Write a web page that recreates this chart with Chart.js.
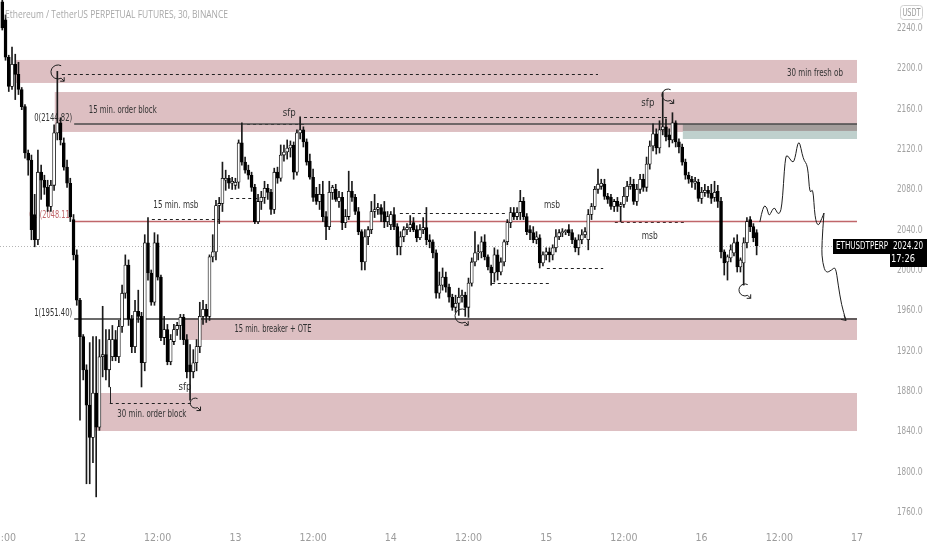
<!DOCTYPE html>
<html>
<head>
<meta charset="utf-8">
<script src="https://cdn.jsdelivr.net/npm/chart.js@4.4.1/dist/chart.umd.min.js"></script>
<style>
  html, body { margin: 0; padding: 0; background: #fff; }
  #wrap { width: 932px; height: 550px; }
</style>
</head>
<body>
<div id="wrap"><canvas id="chart"></canvas></div>
<script>
// ETHUSDT perp, 30 min candles, first one at 11th 12:00 (hours counted from the 12th 00:00)
const firstCandleHour = -12;
const candleHours = 0.5;

const opens = [
  2266,2248,2211,2182,2204,2194,2179,2162,2116,2109,
  2055,2030,2097,2089,2082,2063,2084,2136,2146,2126,
  2102,2086,2050,2015,1970,1934,1901,1866,1834,1878,
  1844,1914,1916,1901,1914,1931,1914,1944,1977,2005,
  1951,1924,1959,1954,1908,2027,1997,1968,2027,1993,
  1933,1941,1909,1929,1941,1945,1953,1931,1906,1899,
  1908,1924,1954,1961,1954,2013,2018,2064,2066,2089,
  2091,2086,2084,2087,2126,2107,2099,2094,2082,2048,
  2068,2072,2081,2077,2060,2097,2091,2114,2117,2121,
  2124,2097,2136,2139,2127,2108,2092,2075,2068,2075,
  2053,2043,2077,2080,2068,2072,2047,2053,2078,2072,
  2058,2038,2008,2033,2040,2058,2060,2062,2058,2048,
  2045,2055,2043,2023,2033,2040,2042,2047,2040,2032,
  2040,2042,2030,2028,2017,1977,1985,1993,1983,1973,
  1963,1967,1973,1975,1963,1987,2008,2017,2018,2028,
  2013,2003,1997,2015,1998,2008,2028,2047,2057,2053,
  2057,2068,2053,2040,2037,2030,2032,2007,2015,2018,
  2015,2022,2033,2037,2038,2040,2037,2030,2022,2030,
  2035,2030,2055,2063,2080,2083,2085,2073,2072,2063,
  2068,2063,2065,2073,2083,2085,2068,2080,2090,2082,
  2105,2123,2135,2121,2139,2142,2134,2129,2146,2127,
  2122,2107,2094,2090,2086,2087,2071,2077,2079,2076,
  2072,2078,2068,2018,2008,2012,2017,2028,2003,2007,
  2027,2050,2043,2037
];
const highs = [
  2275,2253,2213,2221,2214,2206,2181,2164,2119,2114,
  2075,2119,2104,2094,2089,2089,2144,2197,2151,2131,
  2109,2091,2055,2020,1972,1936,1906,1928,1934,1934,
  1931,1964,1941,1941,1945,1940,1950,1985,2015,2010,
  1955,1970,1980,1958,2035,2052,2000,2037,2035,1995,
  1954,1946,1936,1946,1948,1956,1956,1936,1926,1921,
  1931,1968,1970,1966,2015,2035,2069,2072,2107,2099,
  2094,2092,2091,2129,2146,2112,2104,2097,2085,2075,
  2078,2088,2085,2080,2101,2102,2124,2124,2129,2128,
  2127,2139,2152,2142,2130,2115,2100,2082,2085,2088,
  2058,2088,2084,2085,2078,2077,2060,2098,2088,2075,
  2062,2040,2040,2043,2068,2075,2066,2065,2068,2058,
  2058,2062,2046,2038,2043,2046,2054,2052,2044,2045,
  2052,2062,2035,2030,2020,1998,2002,1998,1986,1976,
  1975,1982,1980,1978,1992,2012,2038,2025,2033,2035,
  2015,2005,2022,2020,2012,2030,2050,2062,2062,2062,
  2079,2072,2056,2044,2043,2038,2035,2018,2022,2022,
  2025,2040,2040,2041,2040,2045,2040,2032,2035,2040,
  2042,2060,2066,2083,2100,2090,2090,2076,2075,2070,
  2072,2067,2082,2088,2092,2090,2085,2095,2095,2112,
  2128,2145,2140,2148,2176,2150,2140,2156,2148,2130,
  2125,2110,2097,2093,2092,2090,2082,2085,2083,2085,
  2088,2084,2072,2020,2015,2025,2032,2035,2012,2032,
  2052,2053,2046,2040
];
const lows = [
  2238,2208,2177,2179,2169,2174,2159,2111,2094,2030,
  2023,2025,2070,2075,2058,2058,2079,2129,2124,2099,
  2082,2048,2010,1965,1851,1891,1788,1788,1809,1775,
  1841,1894,1891,1884,1910,1910,1908,1938,1972,1945,
  1918,1918,1948,1884,1900,1990,1965,1965,1990,1930,
  1926,1906,1906,1926,1935,1931,1926,1893,1871,1893,
  1900,1918,1946,1948,1950,2008,2010,2046,2058,2079,
  2081,2080,2080,2081,2104,2096,2090,2078,2046,2046,
  2060,2066,2070,2055,2056,2086,2088,2108,2110,2112,
  2090,2094,2130,2122,2104,2090,2068,2065,2060,2048,
  2030,2040,2070,2068,2062,2040,2042,2050,2068,2055,
  2035,2000,2000,2025,2036,2052,2055,2048,2042,2043,
  2040,2040,2015,2015,2028,2035,2038,2038,2028,2030,
  2036,2025,2022,2012,1972,1972,1980,1978,1968,1960,
  1958,1955,1968,1954,1953,1984,2004,2010,2012,2010,
  2000,1985,1988,1990,1995,2004,2025,2042,2050,2050,
  2050,2050,2035,2030,2027,2026,2002,2004,2010,2008,
  2010,2018,2030,2033,2035,2034,2026,2018,2015,2026,
  2032,2020,2050,2060,2076,2080,2070,2066,2060,2058,
  2058,2048,2062,2068,2080,2065,2064,2076,2078,2078,
  2100,2118,2115,2116,2134,2128,2122,2126,2122,2116,
  2104,2090,2086,2082,2080,2068,2066,2073,2072,2066,
  2068,2062,2012,1995,1990,2008,2014,1998,1998,1985,
  2022,2038,2028,2015
];
const closes = [
  2240,2211,2182,2204,2194,2179,2162,2116,2109,2040,
  2030,2097,2089,2082,2063,2084,2136,2146,2129,2102,
  2086,2053,2015,1970,1934,1901,1866,1834,1878,1844,
  1914,1916,1901,1931,1931,1914,1944,1977,2005,1951,
  1924,1959,1954,1908,2027,1997,1968,2027,1993,1933,
  1941,1909,1931,1941,1945,1953,1931,1899,1899,1908,
  1924,1954,1961,1954,2013,2018,2064,2066,2091,2091,
  2086,2088,2087,2126,2107,2099,2094,2082,2048,2068,
  2072,2081,2077,2060,2097,2091,2114,2117,2121,2124,
  2097,2136,2139,2127,2107,2092,2072,2068,2075,2053,
  2043,2077,2082,2070,2072,2047,2053,2078,2072,2058,
  2038,2008,2033,2040,2058,2060,2062,2055,2048,2053,
  2055,2043,2023,2033,2040,2042,2045,2040,2032,2040,
  2042,2030,2028,2017,1977,1985,1993,1983,1973,1963,
  1967,1973,1975,1963,1987,2008,2017,2018,2028,2013,
  2003,1997,2015,1998,2008,2028,2047,2057,2053,2057,
  2068,2053,2038,2037,2030,2033,2007,2015,2018,2015,
  2022,2033,2037,2038,2039,2037,2030,2022,2030,2035,
  2038,2055,2063,2080,2085,2086,2073,2070,2063,2068,
  2063,2065,2073,2083,2085,2068,2080,2090,2082,2105,
  2123,2135,2121,2139,2142,2132,2129,2146,2127,2122,
  2107,2094,2090,2087,2088,2071,2077,2079,2076,2071,
  2077,2068,2018,2007,2013,2020,2027,2003,2010,2027,
  2048,2043,2032,2024.2
];

const lastPrice = 2024.20;
const priceTicks = [1760,1800,1840,1880,1920,1960,2000,2040,2080,2120,2160,2200,2240];
const timeTicks = [-12,0,12,24,36,48,60,72,84,96,108,120];
const timeLabels = ['12:00','12','12:00','13','12:00','14','12:00','15','12:00','16','12:00','17'];

// fib levels drawn on the chart
const fibLevels = [
  { label: '0(2144.82)', price: 2144.82, color: '#4a4a4a', text: '#333' },
  { label: '0.5(2048.11)', price: 2048.11, color: '#c0666a', text: '#c0666a' },
  { label: '1(1951.40)', price: 1951.40, color: '#3a3a3a', text: '#333' }
];

const NARROW = "'Liberation Sans Narrow','DejaVu Sans Condensed','Liberation Sans',sans-serif";

// drawings (time in hours from 12th 00:00, price)
const zones = [
  { t0: -10.0, t1: 120, top: 2208.3, bottom: 2185.5, color: '#ddbfc2' },
  { t0: -3.9, t1: 120, top: 2176.5, bottom: 2136.9, color: '#ddbfc2' },
  { t0: 16.2, t1: 120, top: 1952.4, bottom: 1930.6, color: '#ddbfc2' },
  { t0: 2.3, t1: 120, top: 1878.0, bottom: 1840.3, color: '#ddbfc2' },
  { t0: 93.1, t1: 120, top: 2144.8, bottom: 2137.9, color: '#a39d9b' },
  { t0: 93.1, t1: 120, top: 2137.9, bottom: 2129.9, color: '#bfd0cd' }
];
const notes = [
  { text: '30 min fresh ob', t: 113.5, p: 2195.5, w: 56 },
  { text: '15 min. order block', t: 6.6, p: 2158.7, w: 68 },
  { text: '15 min. breaker + OTE', t: 29.8, p: 1941.5, w: 77 },
  { text: '30 min. order block', t: 11.1, p: 1857.2, w: 69 },
  { text: 'sfp', t: 32.3, p: 2155.7, w: 13 },
  { text: 'sfp', t: 87.7, p: 2165.6, w: 13 },
  { text: 'sfp', t: 16.2, p: 1884.0, w: 13 },
  { text: '15 min. msb', t: 14.8, p: 2064.5, w: 45 },
  { text: 'msb', t: 72.9, p: 2064.5, w: 16 },
  { text: 'msb', t: 88.0, p: 2033.7, w: 16 }
];
const dashes = [
  { t0: -2.8, t1: 80.0, p: 2194.5 },
  { t0: 25.8, t1: 34.6, p: 2145.0 },
  { t0: 34.6, t1: 90.8, p: 2151.7 },
  { t0: 11.1, t1: 21.6, p: 2051.0 },
  { t0: 23.2, t1: 27.8, p: 2071.0 },
  { t0: 49.4, t1: 66.0, p: 2056.8 },
  { t0: 63.6, t1: 72.6, p: 1987.4 },
  { t0: 72.1, t1: 80.8, p: 2001.7 },
  { t0: 82.6, t1: 93.7, p: 2047.3 },
  { t0: 4.6, t1: 17.3, p: 1868.0 }
];
const loops = [
  { t: -3.4, p: 2196.4, r: 7 },
  { t: 90.8, p: 2173.5, r: 6 },
  { t: 59.0, p: 1954.4, r: 7 },
  { t: 17.8, p: 1868.0, r: 5 },
  { t: 102.7, p: 1980.2, r: 6 }
];
const pathUp = [
  [105.0,2047.6],[105.5,2064.5],[106.1,2062.5],[106.4,2052.6],[106.9,2059.5],[107.3,2062.5],
  [107.8,2054.6],[108.4,2059.5],[108.9,2112.1],[109.3,2114.1],[110.0,2106.1],[110.4,2109.1],
  [111.0,2131.9],[111.7,2109.1],[112.4,2104.2],[112.7,2074.4],[113.2,2082.3],[113.5,2051.6],
  [114.0,2042.7],[114.6,2051.6],[114.9,2056.5]
];
const pathDown = [
  [114.9,2056.5],[114.5,2023.0],[114.7,2006.5],[115.2,1996.8],[116.1,2000.0],[116.7,2003.4],
  [117.1,1985.2],[117.6,1965.4],[118.3,1950.0]
];

const times = opens.map((_, i) => firstCandleHour + i * candleHours);
const wickData = times.map((t, i) => ({ x: t, y: [lows[i], highs[i]] }));
const bodyData = times.map((t, i) => ({ x: t, y: [opens[i], closes[i]] }));
const bodyFill = opens.map((o, i) => closes[i] >= o ? '#ffffff' : '#000000');

function noteText(ctx, text, x, y, w, color, size, align) {
  ctx.font = size + 'px ' + NARROW;
  ctx.fillStyle = color;
  ctx.textAlign = align || 'center';
  ctx.textBaseline = 'middle';
  if (ctx.measureText(text).width > w) ctx.fillText(text, x, y, w);
  else ctx.fillText(text, x, y);
}

function smooth(ctx, pts) {
  ctx.moveTo(pts[0][0], pts[0][1]);
  for (let i = 1; i < pts.length - 1; i++) {
    const mx = (pts[i][0] + pts[i + 1][0]) / 2, my = (pts[i][1] + pts[i + 1][1]) / 2;
    ctx.quadraticCurveTo(pts[i][0], pts[i][1], mx, my);
  }
  const l = pts[pts.length - 1];
  ctx.lineTo(l[0], l[1]);
}

const drawings = {
  id: 'drawings',
  afterUpdate(chart) {
    // price axis font is a condensed one in the original, squeeze the labels
    const s = chart.scales.y;
    if (!s || s._squeezed) return;
    s._squeezed = true;
    const drawLabels = s.drawLabels.bind(s);
    s.drawLabels = function (area) {
      const c = this.ctx, x0 = this.left + 2;
      c.save();
      c.translate(x0, 0); c.scale(0.73, 1); c.translate(-x0, 0);
      drawLabels(area);
      c.restore();
    };
  },
  beforeDatasetsDraw(chart) {
    const { ctx, chartArea: a, scales: { x, y } } = chart;
    ctx.save();
    ctx.beginPath();
    ctx.rect(a.left, a.top, a.right - a.left, a.bottom - a.top);
    ctx.clip();

    zones.forEach(z => {
      ctx.fillStyle = z.color;
      const x0 = x.getPixelForValue(z.t0), x1 = x.getPixelForValue(z.t1);
      const y0 = y.getPixelForValue(z.top), y1 = y.getPixelForValue(z.bottom);
      ctx.fillRect(x0, y0, x1 - x0, y1 - y0);
    });

    // last price dotted line
    ctx.strokeStyle = '#b4b4b4';
    ctx.lineWidth = 1;
    ctx.setLineDash([1, 2]);
    ctx.beginPath();
    const py = Math.round(y.getPixelForValue(lastPrice)) + 0.5;
    ctx.moveTo(a.left, py); ctx.lineTo(a.right, py);
    ctx.stroke();

    ctx.strokeStyle = '#222';
    ctx.setLineDash([3, 3]);
    dashes.forEach(d => {
      const yy = Math.round(y.getPixelForValue(d.p)) + 0.5;
      ctx.beginPath();
      ctx.moveTo(x.getPixelForValue(d.t0), yy);
      ctx.lineTo(x.getPixelForValue(d.t1), yy);
      ctx.stroke();
    });
    ctx.setLineDash([]);
    // short leg down to the 30 min order block sfp line
    ctx.beginPath();
    ctx.moveTo(Math.round(x.getPixelForValue(4.6)) + 0.5, y.getPixelForValue(1884));
    ctx.lineTo(Math.round(x.getPixelForValue(4.6)) + 0.5, y.getPixelForValue(1868));
    ctx.stroke();

    fibLevels.forEach(f => {
      const yy = y.getPixelForValue(f.price);
      const x0 = x.getPixelForValue(-0.9);
      ctx.strokeStyle = f.color;
      ctx.lineWidth = 1.5;
      ctx.beginPath();
      ctx.moveTo(x0, yy); ctx.lineTo(x.getPixelForValue(120), yy);
      ctx.stroke();
      noteText(ctx, f.label, x0 - 2, yy - 6, f.label.length > 10 ? 43 : 38, f.text, 11, 'right');
    });

    notes.forEach(n => noteText(ctx, n.text, x.getPixelForValue(n.t), y.getPixelForValue(n.p), n.w, '#333', 11, 'center'));
    ctx.restore();
  },
  afterDatasetsDraw(chart) {
    const { ctx, scales: { x, y } } = chart;
    ctx.save();
    ctx.strokeStyle = '#1e1e1e';
    ctx.lineWidth = 1;
    loops.forEach(l => {
      const cx = x.getPixelForValue(l.t), cy = y.getPixelForValue(l.p), r = l.r;
      ctx.beginPath();
      ctx.arc(cx, cy, r, -Math.PI * 0.35, Math.PI * 0.35, true);
      ctx.stroke();
      const ex = cx + r * Math.cos(Math.PI * 0.35), ey = cy + r * Math.sin(Math.PI * 0.35);
      ctx.beginPath();
      ctx.moveTo(ex, ey); ctx.lineTo(ex + 3, ey + 3);
      ctx.moveTo(ex + 3, ey + 3); ctx.lineTo(ex + 3, ey - 1);
      ctx.moveTo(ex + 3, ey + 3); ctx.lineTo(ex - 1, ey + 3);
      ctx.stroke();
    });

    const up = pathUp.map(p => [x.getPixelForValue(p[0]), y.getPixelForValue(p[1])]);
    const down = pathDown.map(p => [x.getPixelForValue(p[0]), y.getPixelForValue(p[1])]);
    ctx.beginPath(); smooth(ctx, up); ctx.stroke();
    ctx.beginPath(); smooth(ctx, down); ctx.stroke();
    const e = down[down.length - 1];
    ctx.beginPath();
    ctx.moveTo(e[0] - 5, e[1] - 1); ctx.lineTo(e[0], e[1]); ctx.lineTo(e[0] - 2, e[1] - 5);
    ctx.stroke();
    ctx.restore();
  },
  afterDraw(chart) {
    const { ctx, chartArea: a, scales: { y } } = chart;
    ctx.save();
    ctx.font = "11px 'Open Sans', sans-serif";
    ctx.fillStyle = '#a8a8a8';
    ctx.textAlign = 'left';
    ctx.textBaseline = 'middle';
    const title = 'Ethereum / TetherUS PERPETUAL FUTURES, 30, BINANCE';
    if (ctx.measureText(title).width > 223) ctx.fillText(title, 5, 15, 223); else ctx.fillText(title, 5, 15);

    // currency badge
    ctx.strokeStyle = '#d0d0d0';
    ctx.lineWidth = 1;
    ctx.beginPath();
    ctx.roundRect(900.5, 5.5, 22, 14, 3);
    ctx.stroke();
    noteText(ctx, 'USDT', 911.5, 13, 18, '#9a9a9a', 10, 'center');

    // symbol + last price labels
    const py = Math.round(y.getPixelForValue(lastPrice));
    ctx.fillStyle = '#000';
    ctx.fillRect(a.right - 62, py - 7, 58, 15);
    noteText(ctx, 'ETHUSDTPERP', a.right - 33, py + 0.5, 52, '#fff', 11, 'center');
    ctx.fillStyle = '#000';
    ctx.fillRect(a.right - 5, py - 7, 37, 28);
    noteText(ctx, lastPrice.toFixed(2), a.right + 13, py + 0.5, 30, '#fff', 11, 'center');
    noteText(ctx, '17:26', a.right + 8, py + 13.5, 24, '#fff', 11, 'center');
    ctx.restore();
  }
};

new Chart(document.getElementById('chart'), {
  type: 'bar',
  data: {
    datasets: [
      {
        label: 'wicks',
        data: wickData,
        backgroundColor: '#1a1a1a',
        borderWidth: 0,
        barThickness: 1,
        grouped: false,
        order: 2
      },
      {
        label: 'bodies',
        data: bodyData,
        backgroundColor: bodyFill,
        borderColor: '#000',
        borderWidth: 0.8,
        borderSkipped: false,
        barThickness: 3,
        minBarLength: 1,
        grouped: false,
        order: 1
      }
    ]
  },
  plugins: [drawings],
  options: {
    responsive: true,
    maintainAspectRatio: false,
    animation: false,
    layout: { padding: 0, autoPadding: false },
    plugins: { legend: { display: false }, tooltip: { enabled: false } },
    scales: {
      x: {
        type: 'linear',
        offset: false,
        min: -12.355,
        max: 125.87,
        grid: { display: false, drawTicks: false },
        border: { display: false },
        afterBuildTicks: s => { s.ticks = timeTicks.map(v => ({ value: v })); },
        afterFit: s => { s.height = 25; s.paddingLeft = 0; s.paddingRight = 0; },
        ticks: {
          autoSkip: false,
          maxRotation: 0,
          padding: 7,
          color: '#9c9c9c',
          font: { size: 10.5, family: NARROW },
          callback: v => timeLabels[timeTicks.indexOf(v)]
        }
      },
      y: {
        type: 'linear',
        position: 'right',
        min: 1747.1,
        max: 2267.77,
        grid: { display: false, drawTicks: false },
        border: { display: false },
        afterBuildTicks: s => { s.ticks = priceTicks.map(v => ({ value: v })); },
        afterFit: s => { s.width = 37; s.paddingTop = 0; s.paddingBottom = 0; },
        ticks: {
          padding: 2,
          color: '#a0a0a0',
          font: { size: 11, family: NARROW },
          callback: v => v.toFixed(2)
        }
      }
    }
  }
});
</script>
</body>
</html>
